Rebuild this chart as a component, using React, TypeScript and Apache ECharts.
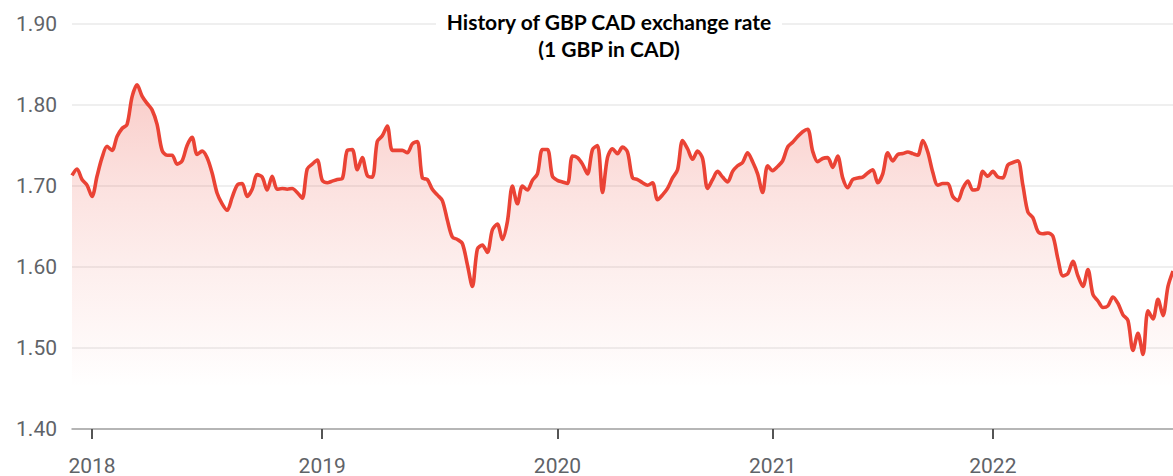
import React, { useEffect, useRef } from "react";
import * as echarts from "echarts";

// Weekly GBP/CAD closing rate (1 GBP in CAD)
const rate: number[] = [
  1.713, 1.721, 1.708, 1.701, 1.687, 1.712, 1.735, 1.749, 1.744, 1.761,
  1.771, 1.776, 1.810, 1.825, 1.811, 1.802, 1.794, 1.776, 1.744, 1.738,
  1.738, 1.727, 1.731, 1.750, 1.760, 1.739, 1.743, 1.735, 1.716, 1.691,
  1.678, 1.670, 1.686, 1.701, 1.703, 1.687, 1.696, 1.714, 1.711, 1.695,
  1.712, 1.696, 1.697, 1.696, 1.697, 1.692, 1.685, 1.721, 1.727, 1.732,
  1.707, 1.704, 1.706, 1.708, 1.709, 1.744, 1.745, 1.720, 1.735, 1.713,
  1.711, 1.755, 1.762, 1.774, 1.744, 1.744, 1.744, 1.741, 1.752, 1.755,
  1.710, 1.708, 1.696, 1.689, 1.682, 1.658, 1.637, 1.634, 1.629, 1.603,
  1.576, 1.622, 1.627, 1.618, 1.646, 1.653, 1.634, 1.656, 1.700, 1.678,
  1.700, 1.695, 1.707, 1.715, 1.745, 1.745, 1.712, 1.707, 1.705, 1.703,
  1.737, 1.735, 1.727, 1.715, 1.745, 1.750, 1.692, 1.735, 1.746, 1.740,
  1.748, 1.742, 1.710, 1.708, 1.704, 1.701, 1.704, 1.683, 1.689, 1.697,
  1.710, 1.720, 1.756, 1.746, 1.733, 1.743, 1.734, 1.697, 1.708, 1.718,
  1.711, 1.705, 1.718, 1.725, 1.729, 1.741, 1.730, 1.715, 1.692, 1.725,
  1.719, 1.724, 1.731, 1.748, 1.754, 1.761, 1.767, 1.770, 1.743, 1.730,
  1.734, 1.735, 1.723, 1.737, 1.710, 1.698, 1.708, 1.710, 1.711, 1.716,
  1.720, 1.704, 1.715, 1.741, 1.731, 1.739, 1.740, 1.742, 1.740, 1.738,
  1.756, 1.742, 1.717, 1.701, 1.703, 1.703, 1.687, 1.682, 1.697, 1.706,
  1.695, 1.696, 1.718, 1.712, 1.718, 1.711, 1.710, 1.726, 1.729, 1.731,
  1.701, 1.668, 1.661, 1.644, 1.641, 1.642, 1.638, 1.610, 1.589, 1.592,
  1.607, 1.589, 1.576, 1.597, 1.566, 1.558, 1.550, 1.552, 1.563, 1.555,
  1.541, 1.534, 1.497, 1.518, 1.492, 1.546, 1.536, 1.560, 1.540, 1.576,
  1.595,
];

// Week index of the first week of each year, and its label
const yearTickIndex: number[] = [4, 50, 97, 140, 184];
const yearLabels: string[] = ["2018", "2019", "2020", "2021", "2022"];

const titleLines: string[] = ["History of GBP CAD exchange rate", "(1 GBP in CAD)"];

const yMin = 1.4;
const yMax = 1.9;
const yStep = 0.1;

export default function App() {
  const ref = useRef<HTMLDivElement>(null);

  useEffect(() => {
    if (!ref.current) return;
    const chart = echarts.init(ref.current, undefined, { renderer: "svg" });
    const categories = rate.map((_, i) => String(i));
    const isYear = (idx: number) => yearTickIndex.indexOf(idx) >= 0;

    chart.setOption({
      animation: false,
      backgroundColor: "#ffffff",
      grid: { left: 72, right: 0, top: 24, bottom: 44, containLabel: false },
      xAxis: {
        type: "category",
        data: categories,
        boundaryGap: false,
        axisLine: { show: true, lineStyle: { color: "#a3a3a3", width: 1.5 } },
        axisTick: {
          show: true,
          interval: (idx: number) => isYear(idx),
          length: 10,
          lineStyle: { color: "#555555", width: 2 },
        },
        axisLabel: {
          interval: (idx: number) => isYear(idx),
          formatter: (_v: string, idx: number) => {
            const k = yearTickIndex.indexOf(idx);
            return k >= 0 ? yearLabels[k] : "";
          },
          margin: 26,
          color: "#5f6368",
          fontFamily: "Roboto",
          fontSize: 21,
        },
        splitLine: { show: false },
      },
      yAxis: {
        type: "value",
        min: yMin,
        max: yMax,
        interval: yStep,
        axisLine: { show: false },
        axisTick: { show: false },
        axisLabel: {
          formatter: (v: number) => v.toFixed(2),
          margin: 15,
          color: "#5f6368",
          fontFamily: "Roboto",
          fontSize: 21,
        },
        splitLine: { show: true, lineStyle: { color: "#efefef", width: 2 } },
      },
      graphic: titleLines.map((t, i) => ({
        type: "text",
        x: 609,
        y: 21 + i * 27,
        z: 100,
        style: {
          text: t,
          fontFamily: "Lato",
          fontWeight: "bold",
          fontSize: 21,
          fill: "#000000",
          align: "center",
          verticalAlign: "middle",
          backgroundColor: "#ffffff",
          padding: [0, 10],
        },
      })),
      series: [
        {
          type: "line",
          data: rate,
          showSymbol: false,
          smooth: 0.3,
          lineStyle: { color: "#ea4335", width: 3.6 },
          itemStyle: { color: "#ea4335" },
          areaStyle: {
            color: new echarts.graphic.LinearGradient(0, 0, 0, 1, [
              { offset: 0, color: "rgba(234,67,53,0.38)" },
              { offset: 0.3, color: "rgba(234,67,53,0.22)" },
              { offset: 0.55, color: "rgba(234,67,53,0.12)" },
              { offset: 0.78, color: "rgba(234,67,53,0.04)" },
              { offset: 0.88, color: "rgba(234,67,53,0)" },
              { offset: 1, color: "rgba(234,67,53,0)" },
            ]),
          },
        },
      ],
    });
    return () => chart.dispose();
  }, []);

  return (
    <div
      ref={ref}
      style={{ position: "fixed", left: 0, top: 0, width: 1173, height: 476, background: "#fff" }}
    />
  );
}
